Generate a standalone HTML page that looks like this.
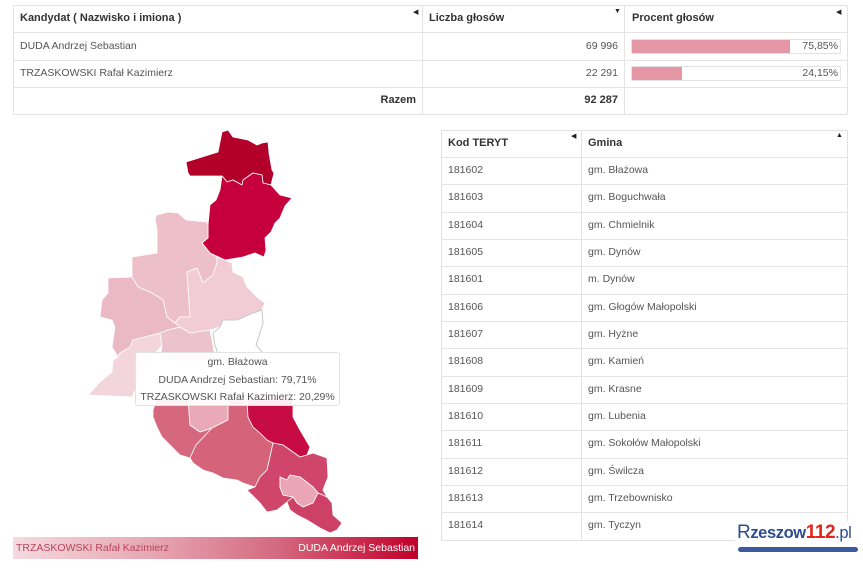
<!DOCTYPE html>
<html><head><meta charset="utf-8"><style>
*{margin:0;padding:0;box-sizing:border-box}
html,body{width:863px;height:575px;background:#fff;overflow:hidden;font-family:"Liberation Sans",sans-serif;color:#555;font-size:10.5px}
.a{position:absolute;white-space:nowrap}
.hl{position:absolute;height:1px;background:#e4e4e4}
.vl{position:absolute;width:1px;background:#e4e4e4}
.b{font-weight:bold;color:#333;font-size:11px}
.r{text-align:right}
.arr{position:absolute;font-size:7px;color:#222;line-height:8px}
.bar{position:absolute;height:15px;border:1px solid #e2e2e2;border-radius:2px;background:#fff}
.fill{position:absolute;left:0;top:0;bottom:0;background:#e597a6}
</style></head><body>

<!-- top table -->
<div class="a" style="left:13px;top:5px;width:835px;height:110px;border:1px solid #e2e2e2;border-radius:2px"></div>
<div class="hl" style="left:13px;top:32px;width:834px"></div>
<div class="hl" style="left:13px;top:60px;width:834px"></div>
<div class="hl" style="left:13px;top:87px;width:834px"></div>
<div class="vl" style="left:422px;top:5px;height:109px"></div>
<div class="vl" style="left:624px;top:5px;height:109px"></div>

<div class="a b" style="left:20px;top:5px;line-height:27px">Kandydat ( Nazwisko i imiona )</div>
<div class="a b" style="left:429px;top:5px;line-height:27px">Liczba głosów</div>
<div class="a b" style="left:632px;top:5px;line-height:27px">Procent głosów</div>
<div class="arr" style="left:413px;top:9px">◀</div>
<div class="arr" style="left:614px;top:8px">▼</div>
<div class="arr" style="left:836px;top:9px">◀</div>

<div class="a" style="left:20px;top:32px;line-height:28px">DUDA Andrzej Sebastian</div>
<div class="a r" style="left:500px;width:118px;top:32px;line-height:28px">69 996</div>
<div class="bar" style="left:631px;top:39px;width:210px"><div class="fill" style="width:158px"></div></div>
<div class="a r" style="left:700px;width:138px;top:32px;line-height:28px">75,85%</div>

<div class="a" style="left:20px;top:60px;line-height:27px">TRZASKOWSKI Rafał Kazimierz</div>
<div class="a r" style="left:500px;width:118px;top:60px;line-height:27px">22 291</div>
<div class="bar" style="left:631px;top:66px;width:210px"><div class="fill" style="width:50px"></div></div>
<div class="a r" style="left:700px;width:138px;top:60px;line-height:27px">24,15%</div>

<div class="a b r" style="left:300px;width:116px;top:87px;line-height:27px">Razem</div>
<div class="a b r" style="left:500px;width:118px;top:87px;line-height:27px">92 287</div>

<!-- map -->
<svg class="a" style="left:0;top:0" width="863" height="575" viewBox="0 0 863 575">
<g stroke="#fff" stroke-width="0.8" stroke-linejoin="round">
<polygon fill="#b2002b" points="186,162 218,152 222,132 228,130 233,137 248,140 257,145 262,143 268,142 269,153 272,170 274,173 271,185 263,183 262,175 253,173 243,180 242,185 233,180 227,182 223,177 222,176 190,176 188,173"/>
<polygon fill="#c6003c" points="222,176 223,177 227,182 233,180 242,185 243,180 253,173 262,175 263,183 271,185 280,195 292,198 285,206 280,218 275,223 271,232 265,238 266,250 264,257 255,253 243,257 225,260 210,253 202,243 208,238 208,225 210,205 216,200 220,190"/>
<polygon fill="#edbfc9" points="155,218 157,215 168,212 178,213 186,220 207,222 208,225 208,238 202,243 210,253 217,257 217,263 213,275 203,283 197,268 187,272 190,317 180,317 175,323 167,317 163,300 152,293 138,287 132,277 132,257 157,253 157,230"/>
<polygon fill="#eab9c4" points="108,278 132,277 138,287 152,293 163,300 167,317 175,323 180,327 168,330 160,333 133,340 130,347 120,353 118,357 112,347 115,327 112,320 100,317 102,300 108,293"/>
<polygon fill="#f2ccd4" points="187,272 197,268 203,283 213,275 217,263 217,257 225,260 232,263 233,272 243,277 247,287 257,297 265,303 262,310 253,313 237,320 223,320 220,327 210,330 190,333 180,327 175,323 180,317 190,317"/>
<polygon fill="#f3d5dc" points="118,357 120,353 130,347 133,340 160,333 162,345 150,360 140,375 135,390 132,397 88,395 100,382 112,372 113,360"/>
<polygon fill="#ecc3cc" points="160,333 168,330 180,327 190,333 210,330 213,345 215,360 160,360 162,345"/>
<polygon fill="#d5687d" points="153,410 157,398 188,398 190,425 200,432 212,428 196,445 190,458 180,455 172,447 162,437 157,427 153,417"/>
<polygon fill="#e9a9b6" points="188,398 228,398 228,420 212,428 200,432 190,425"/>
<polygon fill="#d5647a" points="212,428 228,420 228,398 247,398 248,417 253,427 260,433 267,440 273,443 270,457 267,470 260,477 255,487 243,483 237,480 223,478 213,473 203,470 193,463 190,458 196,445"/>
<polygon fill="#c60c42" points="247,398 293,398 293,417 300,430 310,447 307,455 300,457 283,445 273,443 267,440 260,433 253,427 248,417"/>
<polygon fill="#d0466a" points="273,443 283,445 300,457 307,455 313,453 327,458 328,477 323,490 327,497 318,493 313,487 300,477 290,475 287,480 280,477 280,487 283,495 293,497 287,502 277,510 267,512 260,503 247,490 255,487 260,477 267,470 270,457"/>
<polygon fill="#eaa6b5" points="280,477 287,480 290,475 300,477 313,487 318,493 313,503 303,507 297,503 293,497 283,495 280,487"/>
<polygon fill="#ce4166" points="293,497 297,503 303,507 313,503 318,493 327,497 332,503 333,515 342,523 337,530 330,533 320,528 307,520 297,515 290,510 287,502"/>
</g>
<polygon fill="#fff" stroke="#bbb" stroke-width="0.8" points="220,327 223,320 237,320 253,313 262,310 263,323 260,333 256,345 262,352 262,360 220,360 215,345 213,333"/>
</svg>

<!-- tooltip -->
<div class="a" style="left:135px;top:352px;width:205px;height:54px;background:rgba(255,255,255,0.93);border:1px solid #e2e2e2;border-radius:3px;text-align:center;line-height:17.5px;padding-top:1px;color:#555">
gm. Błażowa<br>DUDA Andrzej Sebastian: 79,71%<br>TRZASKOWSKI Rafał Kazimierz: 20,29%
</div>

<!-- legend -->
<div class="a" style="left:13px;top:537px;width:405px;height:22px;background:linear-gradient(to right,#f4dae0 0%,#e6a5b2 35%,#d56a80 65%,#c0002a 100%)"></div>
<div class="a" style="left:16px;top:537px;line-height:22px;color:#b8445a">TRZASKOWSKI Rafał Kazimierz</div>
<div class="a r" style="left:250px;width:165px;top:537px;line-height:22px;color:#fff">DUDA Andrzej Sebastian</div>

<!-- right table -->
<div class="a" style="left:441px;top:130px;width:407px;height:411px;border:1px solid #e2e2e2"></div>
<div class="vl" style="left:581px;top:130px;height:410px"></div>
<div class="hl" style="left:441px;top:157px;width:406px"></div>
<div class="hl" style="left:441px;top:184px;width:406px"></div>
<div class="hl" style="left:441px;top:212px;width:406px"></div>
<div class="hl" style="left:441px;top:239px;width:406px"></div>
<div class="hl" style="left:441px;top:266px;width:406px"></div>
<div class="hl" style="left:441px;top:294px;width:406px"></div>
<div class="hl" style="left:441px;top:321px;width:406px"></div>
<div class="hl" style="left:441px;top:348px;width:406px"></div>
<div class="hl" style="left:441px;top:376px;width:406px"></div>
<div class="hl" style="left:441px;top:403px;width:406px"></div>
<div class="hl" style="left:441px;top:430px;width:406px"></div>
<div class="hl" style="left:441px;top:458px;width:406px"></div>
<div class="hl" style="left:441px;top:485px;width:406px"></div>
<div class="hl" style="left:441px;top:512px;width:406px"></div>

<div class="a b" style="left:448px;top:130px;line-height:27px">Kod TERYT</div>
<div class="a b" style="left:588px;top:130px;line-height:27px">Gmina</div>
<div class="arr" style="left:571px;top:133px">◀</div>
<div class="arr" style="left:836px;top:132px">▲</div>

<div class="a" style="left:448px;top:157px;line-height:27.35px">181602<br>181603<br>181604<br>181605<br>181601<br>181606<br>181607<br>181608<br>181609<br>181610<br>181611<br>181612<br>181613<br>181614</div>
<div class="a" style="left:588px;top:157px;line-height:27.35px">gm. Błażowa<br>gm. Boguchwała<br>gm. Chmielnik<br>gm. Dynów<br>m. Dynów<br>gm. Głogów Małopolski<br>gm. Hyżne<br>gm. Kamień<br>gm. Krasne<br>gm. Lubenia<br>gm. Sokołów Małopolski<br>gm. Świlcza<br>gm. Trzebownisko<br>gm. Tyczyn</div>

<!-- logo -->
<div class="a" style="left:735px;top:521px;width:128px;height:34px;background:#fff"></div>
<div class="a" style="left:737px;top:522px;line-height:22px;font-size:16.5px;font-weight:bold;letter-spacing:-0.4px"><span style="color:#2d4c8e;font-weight:normal;font-size:19px">R</span><span style="color:#2d4c8e">zeszow</span><span style="color:#e2231a;font-size:19px">112</span><span style="color:#2d4c8e;font-weight:normal">.pl</span></div>
<div class="a" style="left:738px;top:547px;width:120px;height:5px;border-radius:3px;background:#3b5aa0"></div>

</body></html>
